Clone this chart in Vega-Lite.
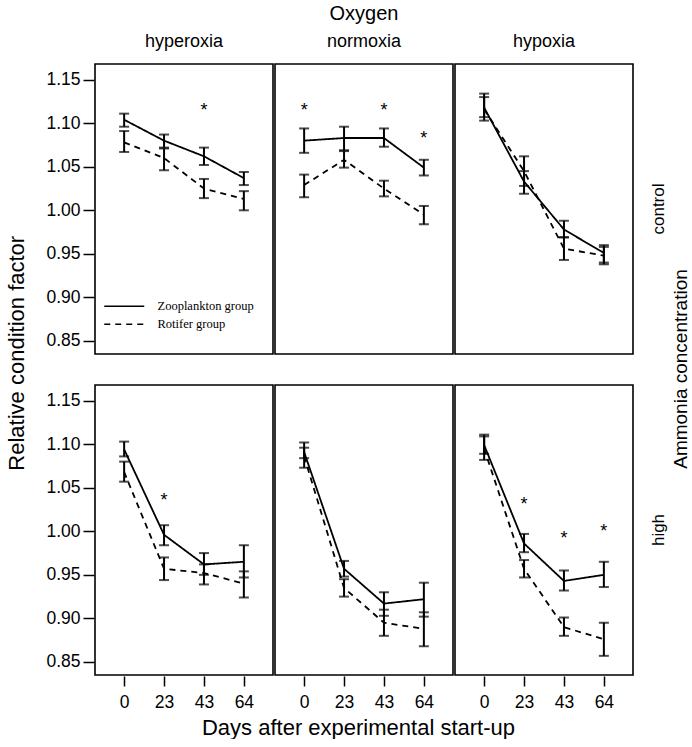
{
  "$schema": "https://vega.github.io/schema/vega-lite/v6.json",
  "padding": {"left": 5, "top": 4, "right": 0, "bottom": 0},
  "background": "white",
  "config": {
    "font": "Liberation Sans",
    "view": {"stroke": "black", "strokeWidth": 1.6},
    "axis": {"grid": false, "domain": false, "tickColor": "black", "tickWidth": 1.5, "labelColor": "black", "titleColor": "black", "labelFont": "Liberation Sans", "titleFont": "Liberation Sans", "titleFontWeight": "normal"},
    "header": {"labelFont": "Liberation Sans", "titleFont": "Liberation Sans", "labelColor": "black", "titleColor": "black", "titleFontWeight": "normal"},
    "title": {"font": "Liberation Sans", "fontWeight": "normal", "color": "black", "fontSize": 22}
  },
  "title": {"text": "Relative condition factor", "orient": "left", "anchor": "middle", "offset": 17, "dx": 18},
  "vconcat": [
    {
      "title": {"text": "Days after experimental start-up", "orient": "bottom", "anchor": "middle", "offset": 7, "dx": -10},
      "data": {
        "values": [
          {"oxygen": "hyperoxia", "ammonia": "control", "group": "Zooplankton group", "day": 0, "mean": 1.104, "lo": 1.096, "hi": 1.111},
          {"oxygen": "hyperoxia", "ammonia": "control", "group": "Zooplankton group", "day": 23, "mean": 1.080, "lo": 1.072, "hi": 1.087},
          {"oxygen": "hyperoxia", "ammonia": "control", "group": "Zooplankton group", "day": 43, "mean": 1.062, "lo": 1.052, "hi": 1.072, "star": 1.119},
          {"oxygen": "hyperoxia", "ammonia": "control", "group": "Zooplankton group", "day": 64, "mean": 1.037, "lo": 1.029, "hi": 1.044},
          {"oxygen": "hyperoxia", "ammonia": "control", "group": "Rotifer group", "day": 0, "mean": 1.078, "lo": 1.067, "hi": 1.091},
          {"oxygen": "hyperoxia", "ammonia": "control", "group": "Rotifer group", "day": 23, "mean": 1.060, "lo": 1.046, "hi": 1.071},
          {"oxygen": "hyperoxia", "ammonia": "control", "group": "Rotifer group", "day": 43, "mean": 1.025, "lo": 1.014, "hi": 1.036},
          {"oxygen": "hyperoxia", "ammonia": "control", "group": "Rotifer group", "day": 64, "mean": 1.013, "lo": 1.000, "hi": 1.022},

          {"oxygen": "normoxia", "ammonia": "control", "group": "Zooplankton group", "day": 0, "mean": 1.080, "lo": 1.066, "hi": 1.094, "star": 1.119},
          {"oxygen": "normoxia", "ammonia": "control", "group": "Zooplankton group", "day": 23, "mean": 1.083, "lo": 1.069, "hi": 1.096},
          {"oxygen": "normoxia", "ammonia": "control", "group": "Zooplankton group", "day": 43, "mean": 1.083, "lo": 1.073, "hi": 1.094, "star": 1.119},
          {"oxygen": "normoxia", "ammonia": "control", "group": "Zooplankton group", "day": 64, "mean": 1.049, "lo": 1.040, "hi": 1.058, "star": 1.087},
          {"oxygen": "normoxia", "ammonia": "control", "group": "Rotifer group", "day": 0, "mean": 1.029, "lo": 1.015, "hi": 1.041},
          {"oxygen": "normoxia", "ammonia": "control", "group": "Rotifer group", "day": 23, "mean": 1.058, "lo": 1.049, "hi": 1.068},
          {"oxygen": "normoxia", "ammonia": "control", "group": "Rotifer group", "day": 43, "mean": 1.025, "lo": 1.016, "hi": 1.034},
          {"oxygen": "normoxia", "ammonia": "control", "group": "Rotifer group", "day": 64, "mean": 0.995, "lo": 0.984, "hi": 1.005},

          {"oxygen": "hypoxia", "ammonia": "control", "group": "Zooplankton group", "day": 0, "mean": 1.118, "lo": 1.103, "hi": 1.134},
          {"oxygen": "hypoxia", "ammonia": "control", "group": "Zooplankton group", "day": 23, "mean": 1.033, "lo": 1.019, "hi": 1.045},
          {"oxygen": "hypoxia", "ammonia": "control", "group": "Zooplankton group", "day": 43, "mean": 0.978, "lo": 0.969, "hi": 0.988},
          {"oxygen": "hypoxia", "ammonia": "control", "group": "Zooplankton group", "day": 64, "mean": 0.951, "lo": 0.940, "hi": 0.960},
          {"oxygen": "hypoxia", "ammonia": "control", "group": "Rotifer group", "day": 0, "mean": 1.116, "lo": 1.107, "hi": 1.130},
          {"oxygen": "hypoxia", "ammonia": "control", "group": "Rotifer group", "day": 23, "mean": 1.045, "lo": 1.028, "hi": 1.062},
          {"oxygen": "hypoxia", "ammonia": "control", "group": "Rotifer group", "day": 43, "mean": 0.956, "lo": 0.943, "hi": 0.969},
          {"oxygen": "hypoxia", "ammonia": "control", "group": "Rotifer group", "day": 64, "mean": 0.948, "lo": 0.938, "hi": 0.958},

          {"oxygen": "hyperoxia", "ammonia": "high", "group": "Zooplankton group", "day": 0, "mean": 1.094, "lo": 1.086, "hi": 1.103},
          {"oxygen": "hyperoxia", "ammonia": "high", "group": "Zooplankton group", "day": 23, "mean": 0.996, "lo": 0.984, "hi": 1.007, "star": 1.039},
          {"oxygen": "hyperoxia", "ammonia": "high", "group": "Zooplankton group", "day": 43, "mean": 0.962, "lo": 0.950, "hi": 0.975},
          {"oxygen": "hyperoxia", "ammonia": "high", "group": "Zooplankton group", "day": 64, "mean": 0.965, "lo": 0.947, "hi": 0.984},
          {"oxygen": "hyperoxia", "ammonia": "high", "group": "Rotifer group", "day": 0, "mean": 1.068, "lo": 1.057, "hi": 1.080},
          {"oxygen": "hyperoxia", "ammonia": "high", "group": "Rotifer group", "day": 23, "mean": 0.957, "lo": 0.944, "hi": 0.970},
          {"oxygen": "hyperoxia", "ammonia": "high", "group": "Rotifer group", "day": 43, "mean": 0.952, "lo": 0.939, "hi": 0.962},
          {"oxygen": "hyperoxia", "ammonia": "high", "group": "Rotifer group", "day": 64, "mean": 0.940, "lo": 0.924, "hi": 0.954},

          {"oxygen": "normoxia", "ammonia": "high", "group": "Zooplankton group", "day": 0, "mean": 1.091, "lo": 1.084, "hi": 1.102},
          {"oxygen": "normoxia", "ammonia": "high", "group": "Zooplankton group", "day": 23, "mean": 0.957, "lo": 0.948, "hi": 0.966},
          {"oxygen": "normoxia", "ammonia": "high", "group": "Zooplankton group", "day": 43, "mean": 0.917, "lo": 0.903, "hi": 0.930},
          {"oxygen": "normoxia", "ammonia": "high", "group": "Zooplankton group", "day": 64, "mean": 0.922, "lo": 0.902, "hi": 0.941},
          {"oxygen": "normoxia", "ammonia": "high", "group": "Rotifer group", "day": 0, "mean": 1.086, "lo": 1.073, "hi": 1.096},
          {"oxygen": "normoxia", "ammonia": "high", "group": "Rotifer group", "day": 23, "mean": 0.935, "lo": 0.925, "hi": 0.945},
          {"oxygen": "normoxia", "ammonia": "high", "group": "Rotifer group", "day": 43, "mean": 0.895, "lo": 0.880, "hi": 0.910},
          {"oxygen": "normoxia", "ammonia": "high", "group": "Rotifer group", "day": 64, "mean": 0.888, "lo": 0.868, "hi": 0.907},

          {"oxygen": "hypoxia", "ammonia": "high", "group": "Zooplankton group", "day": 0, "mean": 1.099, "lo": 1.089, "hi": 1.111},
          {"oxygen": "hypoxia", "ammonia": "high", "group": "Zooplankton group", "day": 23, "mean": 0.986, "lo": 0.976, "hi": 0.997, "star": 1.035},
          {"oxygen": "hypoxia", "ammonia": "high", "group": "Zooplankton group", "day": 43, "mean": 0.943, "lo": 0.932, "hi": 0.955, "star": 0.996},
          {"oxygen": "hypoxia", "ammonia": "high", "group": "Zooplankton group", "day": 64, "mean": 0.950, "lo": 0.936, "hi": 0.965, "star": 1.004},
          {"oxygen": "hypoxia", "ammonia": "high", "group": "Rotifer group", "day": 0, "mean": 1.095, "lo": 1.082, "hi": 1.109},
          {"oxygen": "hypoxia", "ammonia": "high", "group": "Rotifer group", "day": 23, "mean": 0.957, "lo": 0.947, "hi": 0.967},
          {"oxygen": "hypoxia", "ammonia": "high", "group": "Rotifer group", "day": 43, "mean": 0.890, "lo": 0.880, "hi": 0.901},
          {"oxygen": "hypoxia", "ammonia": "high", "group": "Rotifer group", "day": 64, "mean": 0.876, "lo": 0.857, "hi": 0.895}
        ]
      },
      "facet": {
        "row": {"field": "ammonia", "type": "nominal", "sort": ["control", "high"],
          "header": {"title": "Ammonia concentration", "labelOrient": "right", "titleOrient": "right", "labelAngle": -90, "titleAngle": -90, "labelFontSize": 17, "titleFontSize": 19, "labelPadding": 8, "titlePadding": -5}},
        "column": {"field": "oxygen", "type": "nominal", "sort": ["hyperoxia", "normoxia", "hypoxia"],
          "header": {"title": "Oxygen", "labelOrient": "top", "titleOrient": "top", "labelFontSize": 18, "titleFontSize": 20, "labelPadding": 12, "titlePadding": -1}}
      },
      "spacing": {"row": 29, "column": 0},
      "spec": {
        "width": 178,
        "height": 290,
        "encoding": {
          "x": {"field": "day", "type": "ordinal", "scale": {"type": "point", "padding": 0.73},
            "axis": {"title": null, "labelAngle": 0, "tickSize": 10, "labelPadding": 7, "labelFontSize": 17.5}}
        },
        "layer": [
          {
            "mark": {"type": "line", "color": "black", "strokeWidth": 1.8},
            "encoding": {
              "y": {"field": "mean", "type": "quantitative", "scale": {"domain": [0.835, 1.168], "nice": false, "zero": false},
                "axis": {"title": null, "values": [0.85, 0.9, 0.95, 1.0, 1.05, 1.1, 1.15], "format": ".2f", "tickSize": 11, "labelPadding": 3, "labelFontSize": 17.5}},
              "strokeDash": {"field": "group", "type": "nominal",
                "scale": {"domain": ["Zooplankton group", "Rotifer group"], "range": [[1, 0], [6, 5]]},
                "legend": {"title": null, "orient": "none", "legendX": 23, "legendY": 236, "symbolType": "M-4,0H4", "symbolSize": 100, "symbolStrokeWidth": 1.5, "symbolStrokeColor": "black", "labelFont": "Liberation Serif", "labelFontSize": 12.5, "labelColor": "black", "rowPadding": 5, "labelOffset": 27}}
            }
          },
          {
            "mark": {"type": "rule", "color": "black", "strokeWidth": 2},
            "encoding": {
              "y": {"field": "lo", "type": "quantitative"},
              "y2": {"field": "hi"},
              "detail": {"field": "group"}
            }
          },
          {
            "mark": {"type": "tick", "color": "black", "size": 10, "thickness": 2},
            "encoding": {
              "y": {"field": "lo", "type": "quantitative"},
              "detail": {"field": "group"}
            }
          },
          {
            "mark": {"type": "tick", "color": "black", "size": 10, "thickness": 2},
            "encoding": {
              "y": {"field": "hi", "type": "quantitative"},
              "detail": {"field": "group"}
            }
          },
          {
            "transform": [{"filter": "isValid(datum.star)"}],
            "mark": {"type": "text", "text": "*", "color": "black", "fontSize": 18, "baseline": "alphabetic", "dy": 9},
            "encoding": {
              "y": {"field": "star", "type": "quantitative"}
            }
          }
        ]
      }
    }
  ]
}
